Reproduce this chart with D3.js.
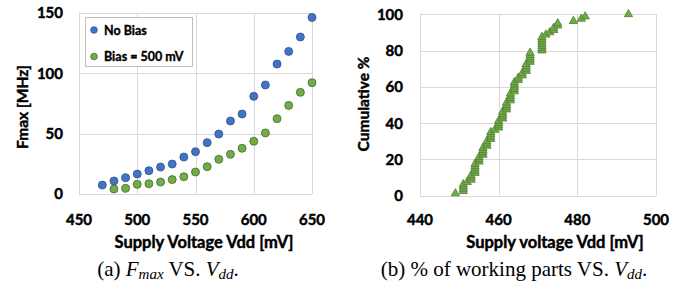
<!DOCTYPE html>
<html>
<head>
<meta charset="utf-8">
<script src="https://cdn.jsdelivr.net/npm/d3@7"></script>
<style>
  body { margin: 0; background: #fff; }
  svg { display: block; }
  .heavy { font-family: Lato, 'Open Sans', sans-serif; font-weight: bold; fill: #000; stroke: #000; stroke-width: 0.45px; }
</style>
</head>
<body>
<svg id="chart" width="699" height="289"></svg>
<script>
// (a) Fmax vs Vdd
var vddA = [470, 480, 490, 500, 510, 520, 530, 540, 550, 560, 570, 580, 590, 600, 610, 620, 630, 640, 650];
var fmaxNoBias = [7.4, 10.8, 13.5, 16.5, 19.3, 22.3, 24.8, 30.6, 35, 42.5, 49.6, 60.4, 66.2, 80.8, 90.2, 107.5, 118, 129.9, 146.1];
var vddBias = [480, 490, 500, 510, 520, 530, 540, 550, 560, 570, 580, 590, 600, 610, 620, 630, 640, 650];
var fmaxBias = [4.1, 4.7, 8, 8.5, 9.9, 11.9, 14.3, 18.2, 22.6, 28.7, 32.8, 37.8, 43.6, 50.5, 62.3, 73.3, 84.1, 92.1];
var ticksA_x = [450, 500, 550, 600, 650];
var ticksA_y = [0, 50, 100, 150];

// (b) minimum working Vdd of each part, how many parts at each value
var partVdd = [449, 451, 452, 453, 454, 455, 456, 457, 458, 459, 460, 461, 462, 463, 464, 465, 466, 467, 468, 471, 472, 473, 474, 475, 479, 481, 482, 493];
var partCount = [1, 4, 1, 3, 5, 3, 4, 3, 4, 1, 4, 4, 4, 4, 5, 2, 2, 4, 5, 7, 1, 1, 2, 2, 1, 1, 1, 1];
var ticksB_x = [440, 460, 480, 500];
var ticksB_y = [0, 20, 40, 60, 80, 100];

var svg = d3.select("#chart");
var gridColor = "#d9d9d9";

function drawFrame(x, y, xt, yt, labelX) {
  var g = svg.append("g");
  g.selectAll(".gx").data(xt).enter().append("line")
    .attr("x1", function(d) { return Math.round(x(d)) + 0.5; })
    .attr("x2", function(d) { return Math.round(x(d)) + 0.5; })
    .attr("y1", y.range()[0]).attr("y2", y.range()[1])
    .attr("stroke", gridColor);
  g.selectAll(".gy").data(yt).enter().append("line")
    .attr("y1", function(d) { return Math.round(y(d)) + 0.5; })
    .attr("y2", function(d) { return Math.round(y(d)) + 0.5; })
    .attr("x1", x.range()[0]).attr("x2", x.range()[1])
    .attr("stroke", gridColor);
  g.selectAll(".lx").data(xt).enter().append("text")
    .attr("class", "heavy")
    .attr("x", function(d) { return x(d); })
    .attr("y", 225)
    .attr("text-anchor", "middle")
    .attr("font-size", 15)
    .text(function(d) { return d; });
  g.selectAll(".ly").data(yt).enter().append("text")
    .attr("class", "heavy")
    .attr("x", labelX)
    .attr("y", function(d) { return y(d); })
    .attr("dy", "0.36em")
    .attr("text-anchor", "end")
    .attr("font-size", 15)
    .text(function(d) { return d; });
  return g;
}

function axisTitles(xText, xCx, yText, yCx, yCy) {
  svg.append("text")
    .attr("class", "heavy")
    .attr("x", xCx).attr("y", 248)
    .attr("text-anchor", "middle")
    .attr("font-size", 16.5)
    .text(xText);
  svg.append("text")
    .attr("class", "heavy")
    .attr("transform", "translate(" + yCx + "," + yCy + ") rotate(-90)")
    .attr("dy", "0.36em")
    .attr("text-anchor", "middle")
    .attr("font-size", 15.5)
    .text(yText);
}

// ---- chart (a)
var xA = d3.scaleLinear().domain([450, 650]).range([79, 312]);
var yA = d3.scaleLinear().domain([0, 150]).range([194, 12.7]);
drawFrame(xA, yA, ticksA_x, ticksA_y, 63);

var seriesA = [
  { name: "No Bias", xs: vddA, ys: fmaxNoBias, fill: "#4472C4", stroke: "#2F528F" },
  { name: "Bias = 500 mV", xs: vddBias, ys: fmaxBias, fill: "#70AD47", stroke: "#43682B" }
];

seriesA.forEach(function(s) {
  svg.append("g").selectAll("circle")
    .data(s.xs.map(function(v, i) { return [v, s.ys[i]]; }))
    .enter().append("circle")
    .attr("cx", function(d) { return xA(d[0]); })
    .attr("cy", function(d) { return yA(d[1]); })
    .attr("r", 4)
    .attr("fill", s.fill)
    .attr("stroke", s.stroke)
    .attr("stroke-width", 0.8);
});

// legend
var leg = svg.append("g");
leg.append("rect")
  .attr("x", 85.5).attr("y", 17.5).attr("width", 107).attr("height", 49)
  .attr("fill", "#fff").attr("stroke", "#bfbfbf");
seriesA.forEach(function(s, i) {
  leg.append("circle")
    .attr("cx", 94).attr("cy", 30 + i * 26.5).attr("r", 3.3)
    .attr("fill", s.fill).attr("stroke", s.stroke).attr("stroke-width", 0.8);
  leg.append("text")
    .attr("class", "heavy")
    .attr("x", 104).attr("y", 30 + i * 26.5).attr("dy", "0.36em")
    .attr("font-size", 12.5)
    .style("stroke-width", "0.35px")
    .text(s.name);
});

axisTitles("Supply Voltage Vdd [mV]", 204, "Fmax [MHz]", 22, 107);

// ---- chart (b)
var xB = d3.scaleLinear().domain([440, 500]).range([420, 656]);
var yB = d3.scaleLinear().domain([0, 100]).range([195.7, 14.3]);
drawFrame(xB, yB, ticksB_x, ticksB_y, 403);

var parts = [];
partVdd.forEach(function(v, i) {
  for (var k = 0; k < partCount[i]; k++) parts.push(v);
});
var cum = parts.map(function(v, i) { return [v, (i + 1) / parts.length * 100]; });

svg.append("g").selectAll("path")
  .data(cum)
  .enter().append("path")
  .attr("transform", function(d) { return "translate(" + xB(d[0]) + "," + yB(d[1]) + ")"; })
  .attr("d", d3.symbol().type(d3.symbolTriangle).size(30))
  .attr("fill", "#70AD47")
  .attr("stroke", "#507E32")
  .attr("stroke-width", 0.8);

axisTitles("Supply voltage Vdd [mV]", 555, "Cumulative %", 363, 104);

// ---- captions
function caption(cx, parts) {
  var t = svg.append("text")
    .attr("x", cx).attr("y", 276)
    .attr("text-anchor", "middle")
    .attr("font-family", "'Liberation Serif', 'DejaVu Serif', serif")
    .attr("font-size", 21);
  parts.forEach(function(p) {
    var ts = t.append("tspan").text(p.t);
    if (p.i) ts.attr("font-style", "italic");
    if (p.sub) ts.attr("font-size", 15).attr("baseline-shift", "-22%");
  });
}
caption(168, [{ t: "(a) " }, { t: "F", i: 1 }, { t: "max", i: 1, sub: 1 }, { t: " VS. " }, { t: "V", i: 1 }, { t: "dd", i: 1, sub: 1 }, { t: "." }]);
caption(514, [{ t: "(b) % of working parts VS. " }, { t: "V", i: 1 }, { t: "dd", i: 1, sub: 1 }, { t: "." }]);
</script>
</body>
</html>
